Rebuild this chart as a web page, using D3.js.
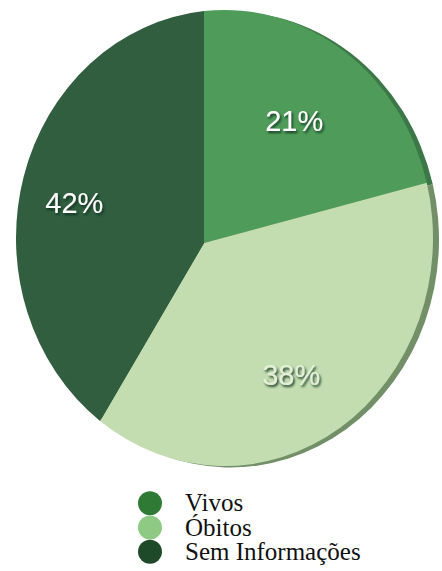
<!DOCTYPE html>
<html>
<head>
<meta charset="utf-8">
<script src="https://cdn.jsdelivr.net/npm/d3@7"></script>
<style>
  html, body { margin: 0; padding: 0; background: #ffffff; }
  svg { display: block; }
</style>
</head>
<body>
<svg id="chart" width="442" height="571"></svg>
<script>
// Situação dos casos
const categories = ["Vivos", "Óbitos", "Sem Informações"];
const values = [21, 38, 42];
const labels = ["21%", "38%", "42%"];

const faceColors = ["#4f9c5a", "#c3dcb0", "#305e3f"];
const sideColors = ["#3c7747", "#728f68", "#284f34"];
const legendColors = ["#2f7a35", "#8fca85", "#1f4a29"];

const svg = d3.select("#chart");

// Tilted pie: an elliptical face with the slices meeting at an off-centre apex
const face = { cx: 224.5, cy: 238, rx: 208.5, ry: 228 };
const apex = { x: 204, y: 243 };
const depth = { dx: 6, dy: 1.5 };

const pie = d3.pie().sort(null).value(d => d)(values);

// Point where a ray from the apex at angle a (clockwise from north) meets the rim
function rimPoint(a, e, o) {
  const dx = Math.sin(a), dy = -Math.cos(a);
  const u = (o.x - e.cx) / e.rx, v = (o.y - e.cy) / e.ry;
  const p = dx / e.rx, q = dy / e.ry;
  const A = p * p + q * q, B = 2 * (u * p + v * q), C = u * u + v * v - 1;
  const t = (-B + Math.sqrt(B * B - 4 * A * C)) / (2 * A);
  return { x: o.x + t * dx, y: o.y + t * dy, t };
}

function slicePath(d, off) {
  const e = { cx: face.cx + off.dx, cy: face.cy + off.dy, rx: face.rx, ry: face.ry };
  const o = { x: apex.x + off.dx, y: apex.y + off.dy };
  const p0 = rimPoint(d.startAngle, e, o);
  const p1 = rimPoint(d.endAngle, e, o);
  const phi = p => Math.atan2((p.y - e.cy) / e.ry, (p.x - e.cx) / e.rx);
  let delta = phi(p1) - phi(p0);
  while (delta < 0) delta += 2 * Math.PI;
  const large = delta > Math.PI ? 1 : 0;
  return `M${o.x},${o.y}L${p0.x},${p0.y}A${e.rx},${e.ry} 0 ${large} 1 ${p1.x},${p1.y}Z`;
}

const defs = svg.append("defs");
const shadow = defs.append("filter").attr("id", "lblShadow")
  .attr("x", "-30%").attr("y", "-30%").attr("width", "160%").attr("height", "160%");
shadow.append("feDropShadow")
  .attr("dx", 1.5).attr("dy", 2).attr("stdDeviation", 1.3)
  .attr("flood-color", "#10301a").attr("flood-opacity", 0.9);

const g = svg.append("g");

// side of the disc, visible along the right edge
g.selectAll("path.side").data(pie).join("path")
  .attr("class", "side")
  .attr("d", d => slicePath(d, depth))
  .attr("fill", (d, i) => sideColors[i]);

// top face
g.selectAll("path.slice").data(pie).join("path")
  .attr("class", "slice")
  .attr("d", d => slicePath(d, { dx: 0, dy: 0 }))
  .attr("fill", (d, i) => faceColors[i]);

// percentage labels: placed along each slice's mid ray, with a small turn (degrees)
const labelFrac = [0.64, 0.69, 0.71];
const labelTurn = [-1, 4, 2];
const labelFill = ["#ffffff", "#e4efd9", "#ffffff"];
g.selectAll("text.pct").data(pie).join("text")
  .attr("class", "pct")
  .each(function (d, i) {
    const mid = (d.startAngle + d.endAngle) / 2 + labelTurn[i] * Math.PI / 180;
    const p = rimPoint(mid, face, apex);
    const f = labelFrac[i];
    d3.select(this)
      .attr("x", apex.x + f * (p.x - apex.x))
      .attr("y", apex.y + f * (p.y - apex.y))
      .text(labels[i]);
  })
  .attr("text-anchor", "middle")
  .attr("dominant-baseline", "central")
  .attr("font-family", "'Liberation Sans', Arial, Helvetica, sans-serif")
  .attr("font-size", 29)
  .attr("fill", (d, i) => labelFill[i])
  .attr("filter", "url(#lblShadow)");

// legend
const legendY = d3.scaleBand().domain(categories).range([491, 564]);
const legend = svg.append("g").selectAll("g").data(categories).join("g")
  .attr("transform", d => `translate(0,${legendY(d) + legendY.bandwidth() / 2})`);
legend.append("circle")
  .attr("cx", 150).attr("cy", 0).attr("r", 12)
  .attr("fill", (d, i) => legendColors[i]);
legend.append("text")
  .attr("x", 185).attr("y", 8)
  .attr("font-family", "'Liberation Serif', 'Times New Roman', serif")
  .attr("font-size", 25)
  .attr("fill", "#111")
  .text(d => d);
</script>
</body>
</html>
